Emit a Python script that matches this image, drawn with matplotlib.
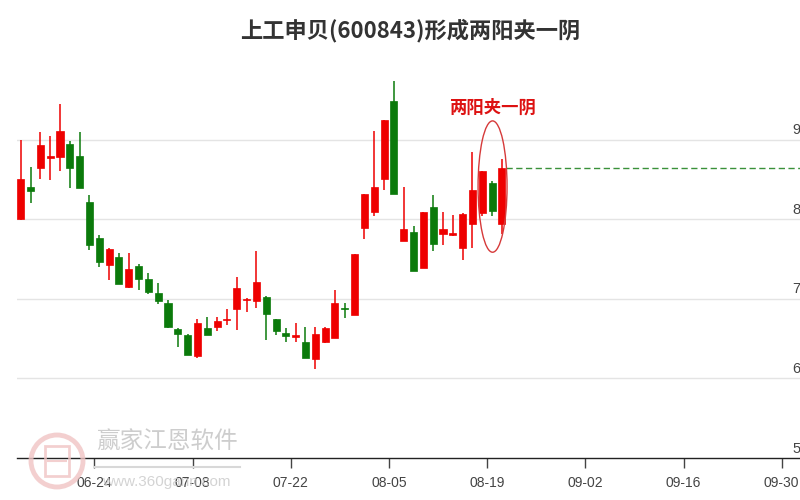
import numpy as np
import matplotlib
matplotlib.use("Agg")
import matplotlib.pyplot as plt
from matplotlib.patches import Ellipse, Rectangle
import matplotlib.transforms as mtransforms

plt.rcParams['font.family'] = ['Noto Sans CJK SC', 'DejaVu Sans']

# daily candles
opens  = [8.00, 8.40, 8.64, 8.77, 8.78, 8.95, 8.80, 8.22, 7.77, 7.42,
          7.52, 7.15, 7.41, 7.25, 7.07, 6.95, 6.62, 6.55, 6.28, 6.63,
          6.65, 6.73, 6.87, 6.98, 6.97, 7.02, 6.74, 6.57, 6.52, 6.46,
          6.24, 6.46, 6.51, 6.89, 6.80, 7.89, 8.09, 8.50, 9.49, 7.73,
          7.84, 7.39, 8.15, 7.81, 7.80, 7.64, 7.94, 8.08, 8.46, 7.94]
highs  = [8.99, 8.65, 9.10, 9.04, 9.45, 8.98, 9.10, 8.30, 7.80, 7.64,
          7.58, 7.57, 7.44, 7.32, 7.20, 6.98, 6.63, 6.56, 6.74, 6.77,
          6.77, 6.87, 7.27, 7.01, 7.60, 7.04, 6.74, 6.63, 6.69, 6.64,
          6.65, 6.65, 7.11, 6.95, 7.56, 8.32, 9.11, 9.24, 9.73, 8.41,
          7.91, 8.09, 8.30, 8.09, 8.05, 8.08, 8.85, 8.61, 8.48, 8.75]
lows   = [7.99, 8.20, 8.51, 8.49, 8.61, 8.39, 8.39, 7.61, 7.40, 7.23,
          7.18, 7.13, 7.11, 7.06, 6.93, 6.63, 6.40, 6.29, 6.25, 6.54,
          6.60, 6.67, 6.61, 6.84, 6.89, 6.48, 6.54, 6.46, 6.46, 6.25,
          6.12, 6.44, 6.51, 6.76, 6.80, 7.75, 8.04, 8.37, 8.32, 7.73,
          7.35, 7.39, 7.60, 7.68, 7.79, 7.49, 7.64, 8.04, 8.04, 7.82]
closes = [8.51, 8.35, 8.93, 8.79, 9.11, 8.64, 8.39, 7.68, 7.46, 7.63,
          7.18, 7.37, 7.25, 7.08, 6.97, 6.65, 6.56, 6.30, 6.69, 6.54,
          6.72, 6.75, 7.14, 7.00, 7.21, 6.81, 6.60, 6.53, 6.54, 6.26,
          6.56, 6.63, 6.95, 6.87, 7.56, 8.32, 8.40, 9.24, 8.32, 7.88,
          7.35, 8.09, 7.69, 7.88, 7.83, 8.07, 8.37, 8.61, 8.10, 8.64]

# x axis: trading day index of each labelled Monday
tick_days = [8, 18, 28, 38, 48, 58, 68, 78]
tick_labels = ['06-24', '07-08', '07-22', '08-05', '08-19', '09-02', '09-16', '09-30']
y_ticks = [5, 6, 7, 8, 9]

title = '上工申贝(600843)形成两阳夹一阴'
note = '两阳夹一阴'

up_col = '#ee0000'
down_col = '#0b7a0b'

fig = plt.figure(figsize=(8, 5), dpi=100)
ax = fig.add_axes([17/800, 1 - 458/500, 1 - 17/800, 398/500])

x = np.arange(len(opens))
o = np.array(opens)
c = np.array(closes)
colors = [up_col if cc >= oo else down_col for oo, cc in zip(o, c)]

# grid
for v in y_ticks[1:]:
    ax.axhline(v, color='#e4e4e4', lw=1, zorder=0)

ax.vlines(x, lows, highs, colors=colors, lw=1.1, zorder=2)
body_h = np.maximum(np.abs(c - o), 0.02)
ax.bar(x, body_h, bottom=np.minimum(o, c), width=0.72, color=colors,
       edgecolor=colors, lw=0.5, zorder=3)

# dashed line at last close
ax.hlines(closes[-1], x[-1] + 0.45, 90, colors='#3a913a', lw=1,
          linestyles=(0, (4.5, 2.5)), zorder=2)

# circle round the pattern
ax.add_patch(Ellipse((48.05, 8.41), 2.95, 1.65, fill=False,
                     edgecolor='#d63a3a', lw=1, zorder=4))
ax.text(48.0, 9.40, note, ha='center', va='center', fontsize=12.5,
        fontweight='bold', color='#dd1111')

ax.set_xlim(-0.38, 79.36)
ax.set_ylim(5, 10)
ax.set_yticks([])
ax.set_xticks([d - 0.5 for d in tick_days])
ax.set_xticklabels(tick_labels, fontsize=10, color='#444444',
                   family='Liberation Sans')
ax.tick_params(axis='x', length=7, width=1, color='#444444', pad=6)
for s in ['top', 'right', 'left']:
    ax.spines[s].set_visible(False)
ax.spines['bottom'].set_color('#222222')
ax.spines['bottom'].set_linewidth(1)

# price labels at right edge
trans = mtransforms.blended_transform_factory(fig.transFigure, ax.transData)
for v in y_ticks:
    ax.text(792/800, v + 0.03, str(v), transform=trans, ha='left', va='bottom',
            fontsize=10.5, color='#444444', family='Liberation Sans', clip_on=False)

fig.text(410/800, 1 - 31/500, title, ha='center', va='center', fontsize=16,
         fontweight='bold', color='#333333')

# watermark (logo + name), sits behind the axis
wm = fig.transFigure
fig.patches.append(Ellipse((57/800, 1 - 461/500), 52/800, 52/500, transform=wm,
                           fill=False, edgecolor='#f0c4c4', lw=3.5, alpha=0.8))
fig.patches.append(Rectangle((45/800, 1 - 476/500), 24/800, 30/500, transform=wm,
                             fill=False, edgecolor='#f0c4c4', lw=2, alpha=0.8))
fig.patches.append(Rectangle((47/800, 1 - 461/500), 20/800, 0.1/500, transform=wm,
                             fill=False, edgecolor='#f0c4c4', lw=1.5, alpha=0.8))
fig.text(167/800, 1 - 442/500, '赢家江恩软件', ha='center', va='center',
         fontsize=17, color='#c8c8c8', alpha=0.9)
fig.lines.append(plt.Line2D([95/800, 240/800], [1 - 467/500, 1 - 467/500],
                            transform=wm, color='#d8d8d8', lw=1.5))
fig.text(166/800, 1 - 482/500, 'www.360gann.com', ha='center', va='center',
         fontsize=11, color='#cccccc', alpha=0.85, family='Liberation Sans')

fig.savefig('out.png', dpi=100)
